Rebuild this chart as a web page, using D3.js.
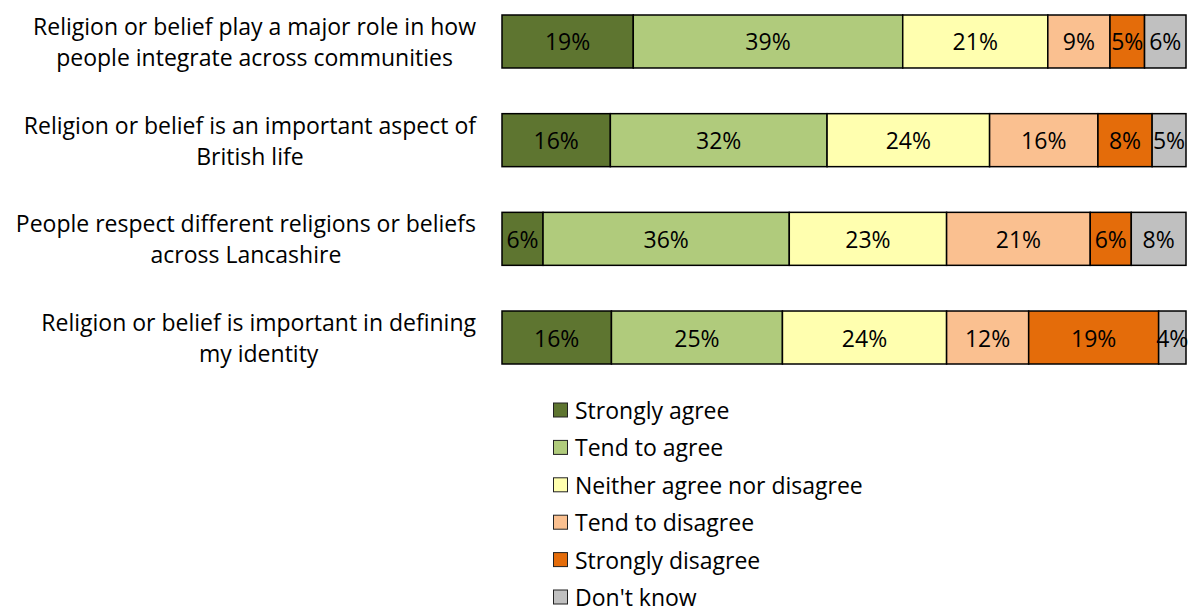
<!DOCTYPE html>
<html>
<head>
<meta charset="utf-8">
<script src="https://cdn.jsdelivr.net/npm/d3@7"></script>
<style>
  html, body { margin: 0; padding: 0; background: #fff; }
  svg { display: block; }
  text { font-family: "Open Sans", "Noto Sans", sans-serif; fill: #000; }
</style>
</head>
<body>
<svg id="chart" width="1188" height="614"></svg>
<script>
// Survey statements (each label split into its display lines)
const statements = [
  ["Religion or belief play a major role in how", "people integrate across communities"],
  ["Religion or belief is an important aspect of", "British life"],
  ["People respect different religions or beliefs", "across Lancashire"],
  ["Religion or belief is important in defining", "my identity"]
];

// Response categories and their fills
const responses = ["Strongly agree", "Tend to agree", "Neither agree nor disagree",
                   "Tend to disagree", "Strongly disagree", "Don't know"];
const responseColors = ["#5E7530", "#B0CB7C", "#FFFFAF", "#FAC090", "#E46C0A", "#C0C0C0"];

// Percentages per statement, in response order
const stronglyAgree    = [19, 16, 6, 16];
const tendToAgree      = [39, 32, 36, 25];
const neither          = [21, 24, 23, 24];
const tendToDisagree   = [9, 16, 21, 12];
const stronglyDisagree = [5, 8, 6, 19];
const dontKnow         = [6, 5, 8, 4];

const seriesValues = [stronglyAgree, tendToAgree, neither, tendToDisagree, stronglyDisagree, dontKnow];

const rows = statements.map((s, i) => {
  const r = { key: i };
  responses.forEach((name, j) => { r[name] = seriesValues[j][i]; });
  return r;
});

const svg = d3.select("#chart");
const fontSize = 23;

// 100% stacked: each row normalised to its own total
const stack = d3.stack().keys(responses).offset(d3.stackOffsetExpand);
const layers = stack(rows);

const x = d3.scaleLinear().domain([0, 1]).range([502, 1186]);
const y = d3.scaleBand()
  .domain(rows.map(r => r.key))
  .range([15, 364])
  .paddingInner(0.463)
  .paddingOuter(0);

const color = d3.scaleOrdinal().domain(responses).range(responseColors);

const bars = svg.append("g");
layers.forEach(layer => {
  const g = bars.append("g");
  g.selectAll("rect")
    .data(layer)
    .join("rect")
    .attr("x", d => x(d[0]))
    .attr("y", d => y(d.data.key))
    .attr("width", d => x(d[1]) - x(d[0]))
    .attr("height", y.bandwidth())
    .attr("fill", color(layer.key))
    .attr("stroke", "#000")
    .attr("stroke-width", 1.5);
  g.selectAll("text")
    .data(layer)
    .join("text")
    .attr("x", d => (x(d[0]) + x(d[1])) / 2)
    .attr("y", d => y(d.data.key) + y.bandwidth() / 2)
    .attr("text-anchor", "middle")
    .attr("dominant-baseline", "central")
    .attr("font-size", fontSize)
    .text(d => d.data[layer.key] + "%");
});

// Category labels: block right-aligned to the bars, lines centred within the block
const labelRight = 476;
const lineGap = 31;
const cats = svg.append("g");
statements.forEach((lines, i) => {
  const g = cats.append("g");
  const cy = y(i) + y.bandwidth() / 2;
  const texts = g.selectAll("text")
    .data(lines)
    .join("text")
    .attr("font-size", fontSize)
    .attr("text-anchor", "middle")
    .attr("dominant-baseline", "central")
    .attr("y", (d, k) => cy + (k - (lines.length - 1) / 2) * lineGap)
    .text(d => d);
  let maxW = 0;
  texts.each(function () { maxW = Math.max(maxW, this.getComputedTextLength()); });
  texts.attr("x", labelRight - maxW / 2);
});

// Legend
const legendY = d3.scalePoint().domain(responses).range([410, 597]);
const legend = svg.append("g");
const items = legend.selectAll("g")
  .data(responses)
  .join("g")
  .attr("transform", d => `translate(553,${legendY(d)})`);
items.append("rect")
  .attr("x", 0.5).attr("y", -7)
  .attr("width", 14).attr("height", 14)
  .attr("fill", d => color(d))
  .attr("stroke", "#222")
  .attr("stroke-width", 1);
items.append("text")
  .attr("x", 22)
  .attr("y", 0)
  .attr("dominant-baseline", "central")
  .attr("font-size", fontSize)
  .text(d => d);
</script>
</body>
</html>
